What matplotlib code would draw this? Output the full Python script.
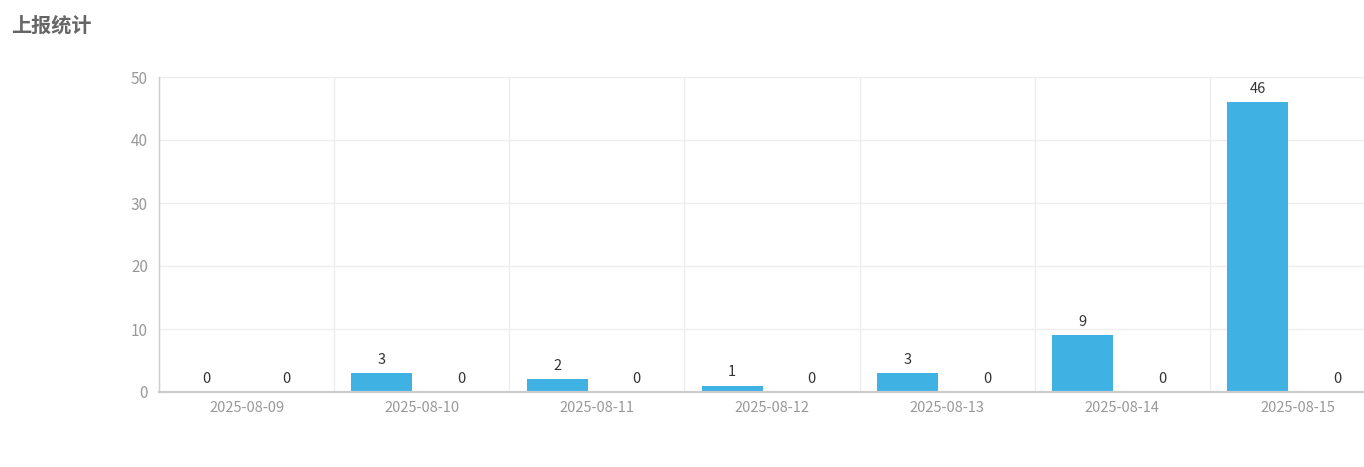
import matplotlib
matplotlib.use("Agg")
import matplotlib.pyplot as plt
import numpy as np

plt.rcParams['font.family'] = ['Noto Sans CJK SC', 'DejaVu Sans']

categories = ["2025-08-09", "2025-08-10", "2025-08-11", "2025-08-12",
              "2025-08-13", "2025-08-14", "2025-08-15"]
series_a = [0, 3, 2, 1, 3, 9, 46]
series_b = [0, 0, 0, 0, 0, 0, 0]
y_ticks = [0, 10, 20, 30, 40, 50]
title = "上报统计"

fig = plt.figure(figsize=(13.64, 4.67), dpi=100)
ax = fig.add_axes([159/1364, 75/467, 1226/1364, 315/467])

x = np.arange(len(categories))
w = 0.348
off = 0.227
ba = ax.bar(x - off, series_a, w, color="#3fb1e3", zorder=3)
bb = ax.bar(x + off, series_b, w, color="#6be6c1", zorder=3)

for rects, vals in ((ba, series_a), (bb, series_b)):
    for r, v in zip(rects, vals):
        ax.annotate(str(v), (r.get_x() + r.get_width()/2, v),
                    xytext=(0, 4.5), textcoords="offset points",
                    ha="center", va="bottom", fontsize=10.5, color="#333333")

ax.set_xlim(-0.5, len(categories) - 0.5)
ax.set_ylim(0, 50)
ax.set_yticks(y_ticks)
ax.set_xticks(x)
ax.set_xticklabels(categories)
ax.set_xticks(np.arange(len(categories) + 1) - 0.5, minor=True)
ax.tick_params(axis="x", which="both", length=0, labelsize=10.5,
               colors="#999999", pad=6.5)
ax.tick_params(axis="y", length=0, labelsize=11, colors="#999999", pad=8)
ax.grid(axis="y", color="#eeeeee", linewidth=1, zorder=0)
ax.grid(axis="x", which="minor", color="#eeeeee", linewidth=1, zorder=0)
ax.grid(axis="x", which="major", visible=False)

for s in ("top", "right"):
    ax.spines[s].set_visible(False)
ax.spines["left"].set_color("#cccccc")
ax.spines["left"].set_linewidth(1)
ax.spines["bottom"].set_color("#cccccc")
ax.spines["bottom"].set_linewidth(1.6)
ax.spines["bottom"].set_zorder(4)

fig.text(11/1364, 1 - 25/467, title, fontsize=14.5, fontweight="bold",
         color="#666666", ha="left", va="center")

fig.savefig("out.png", dpi=100)
